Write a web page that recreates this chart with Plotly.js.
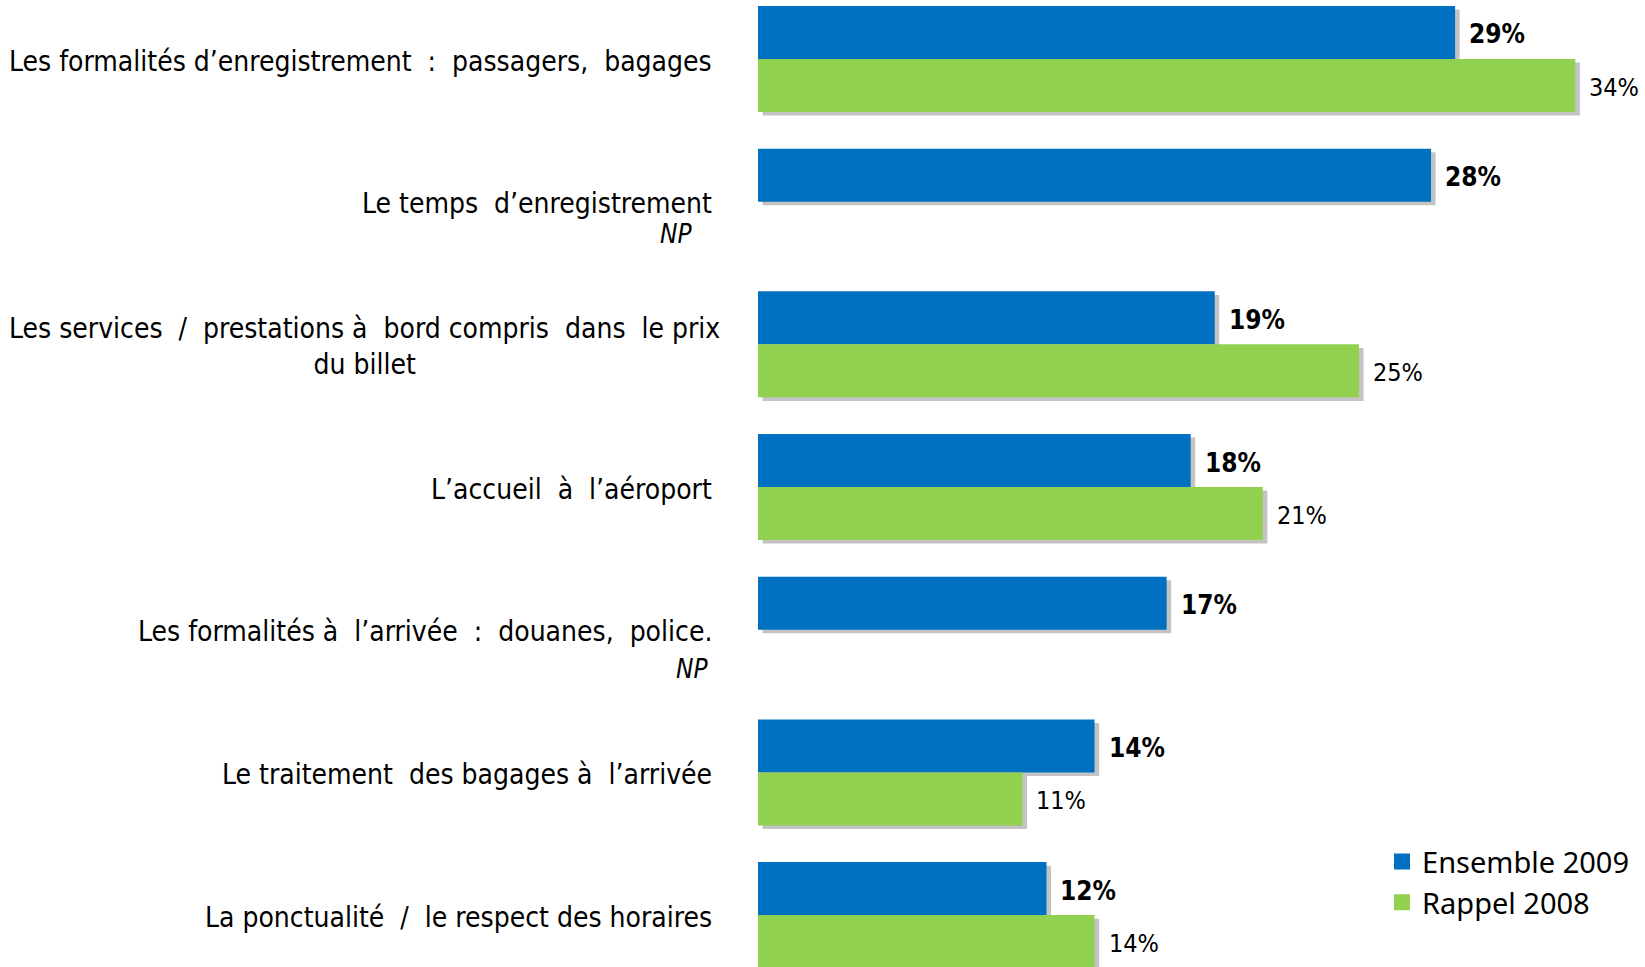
<!DOCTYPE html>
<html>
<head>
<meta charset="utf-8">
<script src="https://cdn.plot.ly/plotly-3.0.1.min.js"></script>
<style>
  html, body { margin: 0; padding: 0; background: #ffffff; }
  #chart { width: 1645px; height: 967px; }
</style>
</head>
<body>
<div id="chart"></div>
<script>
// ---- data ----
const categories = [
  "Les formalités d’enregistrement  :  passagers,  bagages",
  "Le temps  d’enregistrement",
  "Les services  /  prestations à  bord compris  dans  le prix<br>du billet",
  "L’accueil  à  l’aéroport",
  "Les formalités à  l’arrivée  :  douanes,  police.",
  "Le traitement  des bagages à  l’arrivée",
  "La ponctualité  /  le respect des horaires"
];
const notes = ["", "NP", "", "", "NP", "", ""];
const ensemble2009 = [29, 28, 19, 18, 17, 14, 12];
const rappel2008 = [34, null, 25, 21, null, 11, 14];
const seriesNames = ["Ensemble 2009", "Rappel 2008"];

// ---- layout config ----
const idx = categories.map((_, i) => i);
const BLUE = "#0070C0", GREEN = "#92D050", SHADOW = "#C3C3C3";
const BW = 0.3715;         // bar thickness in category units
const SHX = 0.19;          // shadow x offset (in % units)
const SHY = 0.025;         // shadow y offset (category units)
const labelFont = "Liberation Sans Narrow, Arial Narrow, DejaVu Sans Condensed, sans-serif";
const noteShift = {1: {x: -64, y: -32}, 4: {x: -48, y: -39}};

const traces = [
  {type: "bar", orientation: "h", y: idx, x: ensemble2009, base: SHX, width: BW, offset: -BW + SHY,
   marker: {color: SHADOW}, showlegend: false, hoverinfo: "skip"},
  {type: "bar", orientation: "h", y: idx, x: rappel2008, base: SHX, width: BW, offset: SHY,
   marker: {color: SHADOW}, showlegend: false, hoverinfo: "skip"},
  {type: "bar", orientation: "h", name: seriesNames[0], y: idx, x: ensemble2009, width: BW, offset: -BW,
   marker: {color: BLUE}, showlegend: false},
  {type: "bar", orientation: "h", name: seriesNames[1], y: idx, x: rappel2008, width: BW, offset: 0,
   marker: {color: GREEN}, showlegend: false},
  // legend entries (larger square swatches)
  {type: "scatter", mode: "markers", name: seriesNames[0], x: [null], y: [null],
   marker: {symbol: "square", size: 16, color: BLUE}, hoverinfo: "skip"},
  {type: "scatter", mode: "markers", name: seriesNames[1], x: [null], y: [null],
   marker: {symbol: "square", size: 16, color: GREEN}, hoverinfo: "skip"}
];

const annotations = [];
categories.forEach((c, i) => {
  const wrapped = c.indexOf("<br>") >= 0;
  annotations.push({xref: "paper", yref: "y", x: 0, y: i, xanchor: "right", yanchor: "middle",
    xshift: wrapped ? -36 : -44, yshift: -2, align: "center", showarrow: false, text: c,
    font: {family: labelFont, size: 28, color: "#000"}});
  if (notes[i]) {
    const s = noteShift[i] || {x: -56, y: -33};
    annotations.push({xref: "paper", yref: "y", x: 0, y: i, xanchor: "right", yanchor: "middle",
      xshift: s.x, yshift: s.y, showarrow: false, text: "<i>" + notes[i] + "</i>",
      font: {family: labelFont, size: 26, color: "#000"}});
  }
});
ensemble2009.forEach((v, i) => {
  if (v == null) return;
  annotations.push({xref: "x", yref: "y", x: v, y: i - BW / 2, xanchor: "left", yanchor: "middle",
    xshift: 12, yshift: -2, showarrow: false, text: "<b>" + v + "%</b>",
    font: {family: labelFont, size: 26, color: "#000"}});
});
rappel2008.forEach((v, i) => {
  if (v == null) return;
  annotations.push({xref: "x", yref: "y", x: v, y: i + BW / 2, xanchor: "left", yanchor: "middle",
    xshift: 12, yshift: -2, showarrow: false, text: v + "%",
    font: {family: labelFont, size: 25, color: "#000"}});
});

const layout = {
  width: 1645, height: 967,
  margin: {l: 758, r: 0, t: 0, b: 0, pad: 0},
  paper_bgcolor: "#ffffff", plot_bgcolor: "#ffffff",
  barmode: "overlay",
  xaxis: {range: [0, 36.9], visible: false, fixedrange: true},
  yaxis: {range: [6.364, -0.4135], visible: false, fixedrange: true},
  showlegend: true,
  legend: {x: 0.7035, y: 0.1353, xanchor: "left", yanchor: "top", traceorder: "normal",
    bgcolor: "rgba(0,0,0,0)", font: {family: "Noto Sans, Open Sans, sans-serif", size: 29, color: "#000"},
    itemwidth: 30},
  annotations: annotations
};

Plotly.newPlot("chart", traces, layout, {displayModeBar: false, staticPlot: true});
</script>
</body>
</html>
